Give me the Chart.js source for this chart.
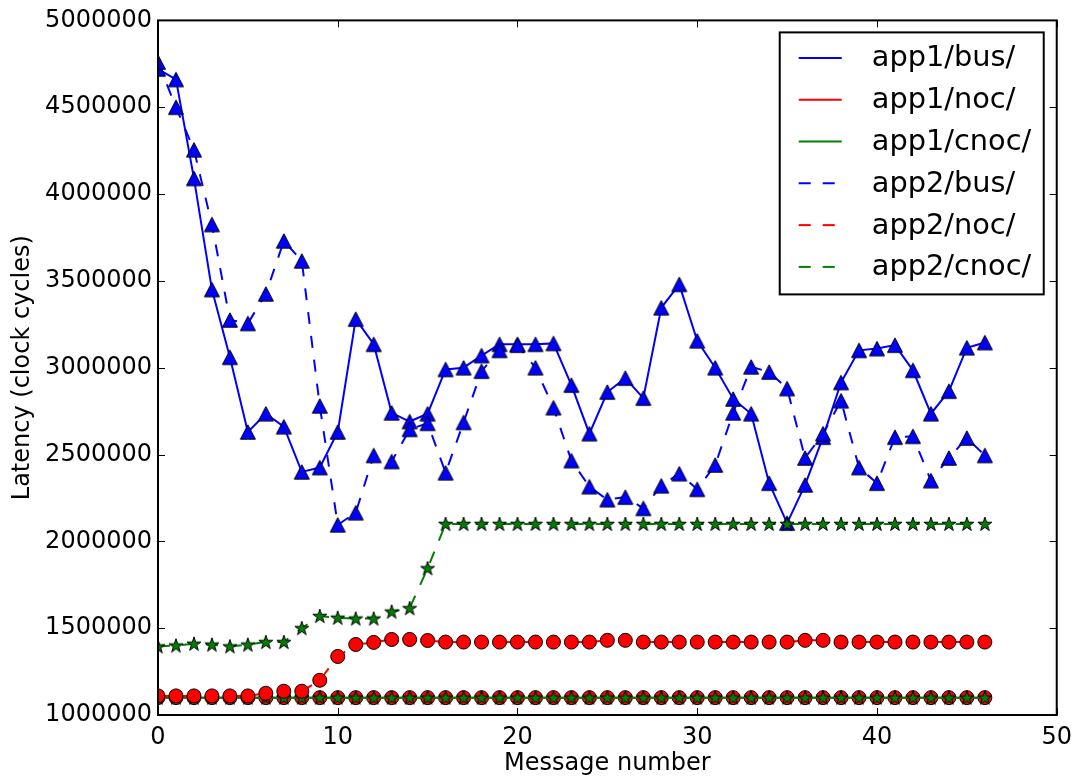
<!DOCTYPE html>
<html>
<head>
<meta charset="utf-8">
<script src="https://cdn.jsdelivr.net/npm/chart.js@4/dist/chart.umd.min.js"></script>
<style>
  body { margin: 0; background: #fff; }
  canvas { display: block; }
</style>
</head>
<body>
<canvas id="chart" width="1080" height="778"></canvas>
<script>
// message numbers on the x axis
const msgNum = [0, 1, 2, 3, 4, 5, 6, 7, 8, 9, 10, 11, 12, 13, 14, 15, 16, 17, 18, 19,
    20, 21, 22, 23, 24, 25, 26, 27, 28, 29, 30, 31, 32, 33, 34, 35, 36, 37, 38, 39,
    40, 41, 42, 43, 44, 45, 46];

const app1Bus = [4720000, 4660000, 4090000, 3450000, 3060000, 2630000, 2735000, 2660000, 2400000, 2425000,
    2630000, 3280000, 3135000, 2740000, 2690000, 2735000, 2990000, 3000000, 3070000, 3135000,
    3135000, 3135000, 3140000, 2900000, 2620000, 2860000, 2940000, 2825000, 3345000, 3480000,
    3155000, 3000000, 2820000, 2735000, 2335000, 2105000, 2325000, 2600000, 2915000, 3100000,
    3110000, 3130000, 2985000, 2735000, 2865000, 3115000, 3145000];

const app1Noc = [1100000, 1100000, 1100000, 1100000, 1100000, 1100000, 1100000, 1100000, 1100000, 1100000,
    1100000, 1100000, 1100000, 1100000, 1100000, 1100000, 1100000, 1100000, 1100000, 1100000,
    1100000, 1100000, 1100000, 1100000, 1100000, 1100000, 1100000, 1100000, 1100000, 1100000,
    1100000, 1100000, 1100000, 1100000, 1100000, 1100000, 1100000, 1100000, 1100000, 1100000,
    1100000, 1100000, 1100000, 1100000, 1100000, 1100000, 1100000];

const app1Cnoc = [1100000, 1100000, 1100000, 1100000, 1100000, 1100000, 1100000, 1100000, 1100000, 1100000,
    1100000, 1100000, 1100000, 1100000, 1100000, 1100000, 1100000, 1100000, 1100000, 1100000,
    1100000, 1100000, 1100000, 1100000, 1100000, 1100000, 1100000, 1100000, 1100000, 1100000,
    1100000, 1100000, 1100000, 1100000, 1100000, 1100000, 1100000, 1100000, 1100000, 1100000,
    1100000, 1100000, 1100000, 1100000, 1100000, 1100000, 1100000];

const app2Bus = [4760000, 4500000, 4255000, 3825000, 3275000, 3255000, 3425000, 3730000, 3615000, 2780000,
    2095000, 2165000, 2495000, 2460000, 2645000, 2680000, 2395000, 2685000, 2980000, 3100000,
    3130000, 3000000, 2770000, 2465000, 2315000, 2240000, 2255000, 2190000, 2320000, 2390000,
    2300000, 2440000, 2740000, 3005000, 2975000, 2880000, 2480000, 2620000, 2810000, 2425000,
    2335000, 2600000, 2605000, 2350000, 2480000, 2595000, 2495000];

const app2Noc = [1110000, 1110000, 1110000, 1110000, 1110000, 1110000, 1125000, 1137000, 1137000, 1200000,
    1337000, 1406000, 1418000, 1435000, 1435000, 1429000, 1420000, 1420000, 1420000, 1420000,
    1420000, 1420000, 1420000, 1420000, 1420000, 1430000, 1430000, 1420000, 1420000, 1420000,
    1420000, 1420000, 1420000, 1420000, 1420000, 1420000, 1430000, 1430000, 1420000, 1420000,
    1420000, 1420000, 1420000, 1420000, 1420000, 1420000, 1420000];

const app2Cnoc = [1395000, 1400000, 1410000, 1405000, 1395000, 1405000, 1420000, 1420000, 1500000, 1570000,
    1560000, 1555000, 1555000, 1595000, 1615000, 1845000, 2100000, 2100000, 2100000, 2100000,
    2100000, 2100000, 2100000, 2100000, 2100000, 2100000, 2100000, 2100000, 2100000, 2100000,
    2100000, 2100000, 2100000, 2100000, 2100000, 2100000, 2100000, 2100000, 2100000, 2100000,
    2100000, 2100000, 2100000, 2100000, 2100000, 2100000, 2100000];

const seriesNames = ['app1/bus/', 'app1/noc/', 'app1/cnoc/', 'app2/bus/', 'app2/noc/', 'app2/cnoc/'];

const BLUE = '#0000ff';
const RED = '#ff0000';
const GREEN = '#008000';
const DASH = [12, 12];

Chart.defaults.font.family = '"DejaVu Sans", sans-serif';
Chart.defaults.color = '#000';

// matplotlib style markers, drawn once on small canvases
const makeTriangle = (fill) => {
    const c = document.createElement('canvas');
    c.width = 20; c.height = 20;
    const g = c.getContext('2d');
    g.beginPath();
    g.moveTo(10, 2.8);
    g.lineTo(2.5, 17.2);
    g.lineTo(17.5, 17.2);
    g.closePath();
    g.fillStyle = fill;
    g.fill();
    g.lineWidth = 1;
    g.lineJoin = 'miter';
    g.strokeStyle = '#000';
    g.stroke();
    return c;
}

const makeStar = (fill) => {
    const c = document.createElement('canvas');
    c.width = 20; c.height = 20;
    const g = c.getContext('2d');
    g.beginPath();
    for (let k = 0; k < 10; k++) {
        const a = -Math.PI / 2 + k * Math.PI / 5;
        const r = k % 2 === 0 ? 7.4 : 7.4 * 0.382;
        const px = 10 + Math.cos(a) * r;
        const py = 10.5 + Math.sin(a) * r;
        if (k === 0) g.moveTo(px, py); else g.lineTo(px, py);
    }
    g.closePath();
    g.fillStyle = fill;
    g.fill();
    g.lineWidth = 1;
    g.strokeStyle = '#000';
    g.stroke();
    return c;
}

const triangle = makeTriangle(BLUE);
const star = makeStar(GREEN);

const toPoints = (vals) => msgNum.map((m, i) => ({ x: m, y: vals[i] }));

const makeSet = (idx, vals, color, marker, dashed) => {
    const set = {
        label: seriesNames[idx],
        data: toPoints(vals),
        borderColor: color,
        borderWidth: 2,
        borderDash: dashed ? DASH : [],
        backgroundColor: color,
        tension: 0,
        fill: false,
        clip: 0,
        order: 10 - idx
    };
    if (marker === 'circle') {
        set.pointStyle = 'circle';
        set.pointRadius = 7;
        set.pointBackgroundColor = color;
        set.pointBorderColor = '#000';
        set.pointBorderWidth = 1;
    } else {
        set.pointStyle = marker;
        set.pointRadius = 8;
    }
    return set;
}

const datasets = [
    makeSet(0, app1Bus, BLUE, triangle, false),
    makeSet(1, app1Noc, RED, 'circle', false),
    makeSet(2, app1Cnoc, GREEN, star, false),
    makeSet(3, app2Bus, BLUE, triangle, true),
    makeSet(4, app2Noc, RED, 'circle', true),
    makeSet(5, app2Cnoc, GREEN, star, true)
];

// box around the plot with inward ticks on all four sides
const framePlugin = {
    id: 'frame',
    afterDatasetsDraw(chart) {
        const ctx = chart.ctx;
        const { left, top, right, bottom } = chart.chartArea;
        const xs = chart.scales.x;
        const ys = chart.scales.y;
        const len = 7;
        ctx.save();
        ctx.strokeStyle = '#000';
        ctx.lineWidth = 1;
        ctx.beginPath();
        for (const t of xs.ticks) {
            const px = Math.round(xs.getPixelForValue(t.value)) + 0.5;
            ctx.moveTo(px, bottom);
            ctx.lineTo(px, bottom - len);
            ctx.moveTo(px, top);
            ctx.lineTo(px, top + len);
        }
        for (const t of ys.ticks) {
            const py = Math.round(ys.getPixelForValue(t.value)) + 0.5;
            ctx.moveTo(left, py);
            ctx.lineTo(left + len, py);
            ctx.moveTo(right, py);
            ctx.lineTo(right - len, py);
        }
        ctx.stroke();
        ctx.lineWidth = 2;
        ctx.strokeRect(left, top, right - left, bottom - top);
        ctx.restore();
    }
}

// legend in the upper right corner, lines only
const legendPlugin = {
    id: 'boxLegend',
    afterDraw(chart) {
        const ctx = chart.ctx;
        const area = chart.chartArea;
        const boxW = 264;
        const boxH = 262;
        const bx = area.right - 13 - boxW;
        const by = area.top + 12;
        const rowH = 41.8;
        ctx.save();
        ctx.fillStyle = '#fff';
        ctx.fillRect(bx, by, boxW, boxH);
        ctx.strokeStyle = '#000';
        ctx.lineWidth = 2;
        ctx.strokeRect(bx, by, boxW, boxH);
        ctx.font = '28.8px "DejaVu Sans"';
        ctx.textBaseline = 'middle';
        ctx.textAlign = 'left';
        chart.data.datasets.forEach((ds, i) => {
            const cy = by + 25.5 + i * rowH;
            ctx.beginPath();
            ctx.setLineDash(ds.borderDash);
            ctx.strokeStyle = ds.borderColor;
            ctx.lineWidth = 2;
            ctx.moveTo(bx + 19, cy);
            ctx.lineTo(bx + 62, cy);
            ctx.stroke();
            ctx.setLineDash([]);
            ctx.fillStyle = '#000';
            ctx.fillText(ds.label, bx + 92, cy + 1);
        });
        ctx.restore();
    }
}

const ctx = document.querySelector('#chart');
const chart = new Chart(ctx, {
    type: 'line',
    data: { datasets: datasets },
    options: {
        responsive: false,
        animation: false,
        events: [],
        layout: { padding: { left: 0, top: 19, right: 22, bottom: 0 } },
        plugins: {
            legend: { display: false },
            tooltip: { enabled: false }
        },
        scales: {
            x: {
                type: 'linear',
                min: 0,
                max: 50,
                ticks: { stepSize: 10, color: '#000', font: { size: 24 }, padding: 8, maxRotation: 0 },
                grid: { display: false, drawTicks: false },
                border: { display: false },
                title: { display: true, text: 'Message number', color: '#000', font: { size: 24 }, padding: { top: 0, bottom: 0 } },
                afterFit: (s) => { s.height = 63; }
            },
            y: {
                type: 'linear',
                min: 1000000,
                max: 5000000,
                ticks: {
                    stepSize: 500000,
                    color: '#000',
                    font: { size: 24 },
                    padding: 6,
                    callback: (v) => String(v)
                },
                grid: { display: false, drawTicks: false },
                border: { display: false },
                title: { display: true, text: 'Latency (clock cycles)', color: '#000', font: { size: 24 }, padding: { top: 8, bottom: 0 } },
                afterFit: (s) => { s.width = 158; }
            }
        }
    },
    plugins: [framePlugin, legendPlugin]
});
</script>
</body>
</html>
